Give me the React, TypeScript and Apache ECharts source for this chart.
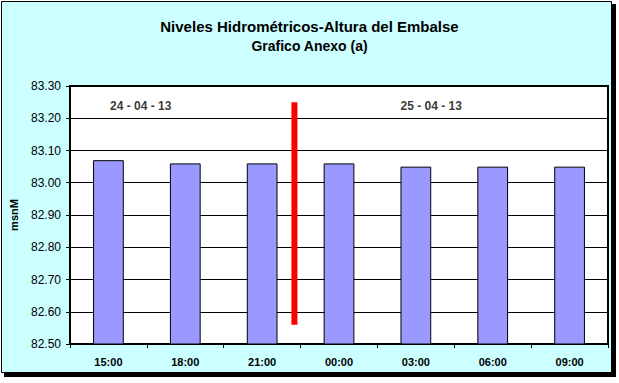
import React, { useEffect, useRef } from "react";
import * as echarts from "echarts";

const categories = ["15:00", "18:00", "21:00", "00:00", "03:00", "06:00", "09:00"];
const levels = [83.07, 83.06, 83.06, 83.06, 83.05, 83.05, 83.05];
const dividerLine: [number, number][] = [
  [2.42, 83.25],
  [2.42, 82.56],
];
const dateLabels: [number, number, string][] = [
  [0.42, 83.239, "24 - 04 - 13"],
  [4.2, 83.239, "25 - 04 - 13"],
];
const titleLines = ["Niveles Hidrométricos-Altura del Embalse", "Grafico Anexo (a)"];
const yName = "msnM";

const FONT = 'Arial, "Liberation Sans", sans-serif';

export default function App() {
  const ref = useRef<HTMLDivElement>(null);
  useEffect(() => {
    document.body.style.margin = "0";
    const chart = echarts.init(ref.current!, undefined, { renderer: "svg" });
    chart.setOption({
      animation: false,
      backgroundColor: "#ffffff",
      graphic: [
        { type: "rect", z: -10, silent: true, shape: { x: 4, y: 4, width: 612, height: 373 }, style: { fill: "#000000" } },
        { type: "rect", z: -9, silent: true, shape: { x: 1.5, y: 1.5, width: 610, height: 371 }, style: { fill: "#CCFFFF", stroke: "#000000", lineWidth: 1 } },
      ],
      title: {
        text: `{a|${titleLines[0]}}\n{b|${titleLines[1]}}`,
        left: "center",
        top: 11,
        textStyle: {
          fontFamily: FONT,
          fontWeight: "bold",
          color: "#000000",
          rich: {
            a: { fontFamily: FONT, fontSize: 15, fontWeight: "bold", color: "#000000", lineHeight: 20 },
            b: { fontFamily: FONT, fontSize: 14, fontWeight: "bold", color: "#000000", lineHeight: 20 },
          },
        },
      },
      grid: {
        left: 66,
        top: 86,
        right: 11,
        bottom: 39,
        show: true,
        backgroundColor: "#ffffff",
        borderColor: "#000000",
        borderWidth: 2,
      },
      xAxis: [
        {
          type: "category",
          data: categories,
          boundaryGap: true,
          axisLine: { lineStyle: { color: "#000000", width: 2 } },
          axisTick: { show: true, length: 4, lineStyle: { color: "#000000" } },
          axisLabel: { fontFamily: FONT, fontSize: 11, fontWeight: "bold", color: "#000000", margin: 12 },
          splitLine: { show: false },
        },
        {
          type: "value",
          min: -0.5,
          max: 6.5,
          show: false,
          splitLine: { show: false },
        },
      ],
      yAxis: {
        type: "value",
        min: 82.5,
        max: 83.3,
        interval: 0.1,
        name: yName,
        nameLocation: "middle",
        nameGap: 51,
        nameTextStyle: { fontFamily: FONT, fontSize: 11, fontWeight: "bold", color: "#000000" },
        axisLine: { show: true, onZero: false, lineStyle: { color: "#000000", width: 2 } },
        axisTick: { show: true, length: 4, lineStyle: { color: "#000000" } },
        axisLabel: {
          fontFamily: FONT,
          fontSize: 12,
          color: "#000000",
          margin: 9,
          formatter: (v: number) => v.toFixed(2),
        },
        splitLine: { show: true, lineStyle: { color: "#000000", width: 1 } },
      },
      series: [
        {
          type: "bar",
          xAxisIndex: 0,
          data: levels,
          barWidth: "40%",
          itemStyle: { color: "#9999FF", borderColor: "#000000", borderWidth: 1 },
        },
        {
          type: "line",
          xAxisIndex: 1,
          data: dividerLine,
          symbol: "none",
          lineStyle: { color: "#FF0000", width: 6, cap: "butt" },
          z: 5,
        },
        {
          type: "scatter",
          xAxisIndex: 1,
          data: dateLabels,
          symbolSize: 0,
          label: {
            show: true,
            position: "inside",
            formatter: (p: any) => p.data[2],
            fontFamily: FONT,
            fontSize: 12,
            fontWeight: "bold",
            color: "#000000",
            textBorderWidth: 0,
          },
          z: 6,
        },
      ],
    });
    return () => chart.dispose();
  }, []);
  return <div ref={ref} style={{ width: 619, height: 383 }} />;
}
